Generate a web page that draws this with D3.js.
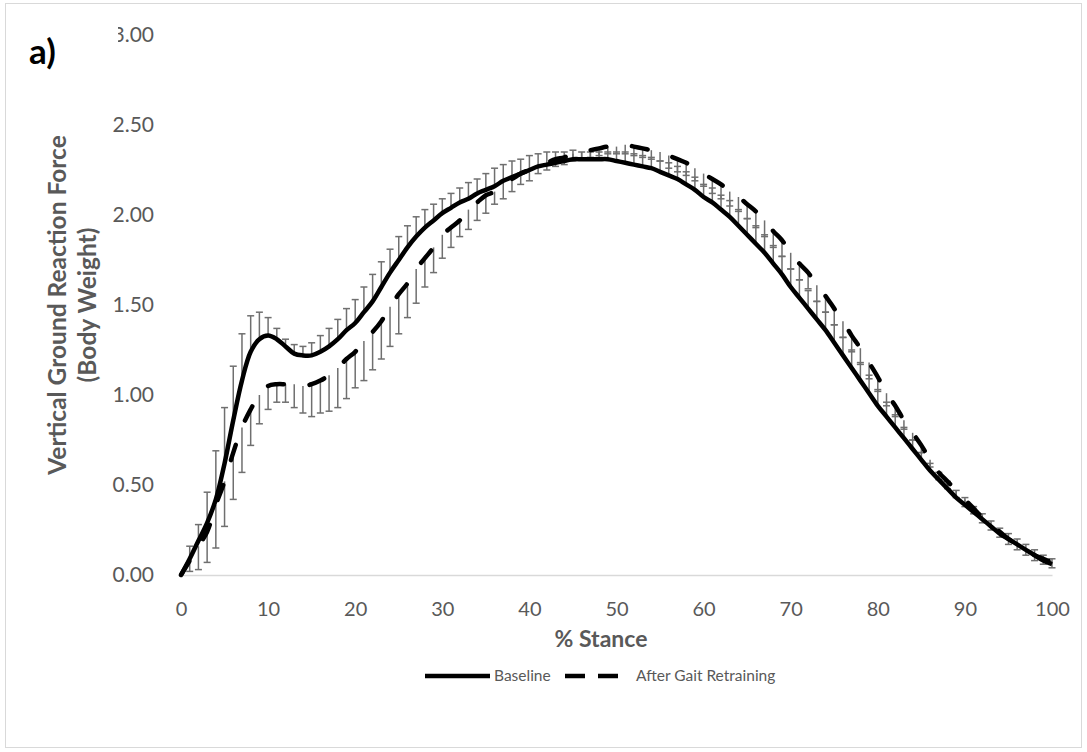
<!DOCTYPE html>
<html>
<head>
<meta charset="utf-8">
<title>Vertical GRF - % Stance</title>
<script src="https://d3js.org/d3.v7.min.js"></script>
<style>
	body { margin:0; background:#ffffff; }
	.tick-label { font-family: Lato, "Open Sans", sans-serif; fill:#595959; }
	.axis-title { font-family: Lato, "Open Sans", sans-serif; font-weight:bold; fill:#595959; }
	.legend-text { font-family: Lato, "Open Sans", sans-serif; fill:#595959; font-size:15.5px; }
	.errbar { stroke:#6f6f6f; stroke-width:1.5; fill:none; }
	.baseline { fill:none; stroke:#000; stroke-width:4.5; stroke-linejoin:round; }
	.retrain { fill:none; stroke:#000; stroke-width:4.5; stroke-dasharray:16,26; stroke-linecap:round; }
</style>
</head>
<body>
<div class="chartContainer"></div>
<script>
// % stance, 0..100 every 1%
var stance = d3.range(0, 101);

// baseline mean (body weight) and its + error
var baseline = [
	0.00, 0.09, 0.19, 0.29, 0.42, 0.62, 0.86, 1.08, 1.24, 1.31,
	1.33, 1.31, 1.27, 1.23, 1.22, 1.22, 1.24, 1.27, 1.31, 1.36,
	1.40, 1.46, 1.52, 1.60, 1.68, 1.75, 1.82, 1.88, 1.93, 1.97,
	2.01, 2.04, 2.07, 2.09, 2.12, 2.14, 2.16, 2.19, 2.21, 2.23,
	2.25, 2.27, 2.28, 2.29, 2.30, 2.31, 2.31, 2.31, 2.31, 2.31,
	2.30, 2.29, 2.28, 2.27, 2.26, 2.24, 2.22, 2.20, 2.17, 2.14,
	2.10, 2.07, 2.03, 1.99, 1.94, 1.89, 1.84, 1.79, 1.73, 1.67,
	1.60, 1.54, 1.48, 1.42, 1.36, 1.29, 1.22, 1.15, 1.08, 1.01,
	0.94, 0.88, 0.82, 0.76, 0.70, 0.64, 0.58, 0.53, 0.48, 0.43,
	0.39, 0.35, 0.31, 0.27, 0.23, 0.20, 0.17, 0.14, 0.11, 0.08,
	0.06
];
var baselineErr = [
	0.00, 0.07, 0.09, 0.17, 0.27, 0.31, 0.30, 0.26, 0.20, 0.15,
	0.10, 0.06, 0.04, 0.05, 0.05, 0.07, 0.09, 0.10, 0.11, 0.12,
	0.13, 0.14, 0.15, 0.14, 0.13, 0.13, 0.12, 0.11, 0.10, 0.09,
	0.08, 0.08, 0.08, 0.09, 0.08, 0.09, 0.10, 0.09, 0.09, 0.08,
	0.08, 0.07, 0.07, 0.06, 0.05, 0.05, 0.04, 0.04, 0.04, 0.04,
	0.05, 0.06, 0.06, 0.06, 0.06, 0.06, 0.07, 0.07, 0.07, 0.07,
	0.07, 0.08, 0.08, 0.09, 0.09, 0.09, 0.10, 0.10, 0.10, 0.10,
	0.10, 0.10, 0.10, 0.10, 0.10, 0.10, 0.10, 0.10, 0.10, 0.10,
	0.09, 0.08, 0.07, 0.06, 0.05, 0.04, 0.04, 0.04, 0.04, 0.04,
	0.04, 0.03, 0.03, 0.03, 0.03, 0.03, 0.03, 0.03, 0.03, 0.03,
	0.03
];

// after gait retraining mean and its - error
var retrained = [
	0.00, 0.08, 0.16, 0.24, 0.39, 0.52, 0.68, 0.82, 0.92, 1.00,
	1.05, 1.06, 1.06, 1.06, 1.05, 1.06, 1.08, 1.11, 1.15, 1.20,
	1.24, 1.30, 1.35, 1.41, 1.49, 1.56, 1.62, 1.70, 1.76, 1.82,
	1.89, 1.93, 1.97, 2.03, 2.07, 2.11, 2.13, 2.18, 2.20, 2.23,
	2.25, 2.27, 2.29, 2.31, 2.32, 2.34, 2.35, 2.36, 2.37, 2.38,
	2.38, 2.39, 2.38, 2.37, 2.36, 2.35, 2.33, 2.31, 2.29, 2.26,
	2.23, 2.20, 2.17, 2.13, 2.10, 2.06, 2.02, 1.97, 1.91, 1.86,
	1.79, 1.73, 1.68, 1.61, 1.55, 1.48, 1.41, 1.33, 1.26, 1.18,
	1.10, 1.01, 0.94, 0.86, 0.79, 0.72, 0.64, 0.57, 0.52, 0.47,
	0.42, 0.37, 0.32, 0.28, 0.24, 0.20, 0.17, 0.14, 0.11, 0.09,
	0.07
];
var retrainedErr = [
	0.00, 0.06, 0.13, 0.17, 0.24, 0.25, 0.26, 0.25, 0.20, 0.16,
	0.13, 0.10, 0.10, 0.13, 0.15, 0.18, 0.18, 0.20, 0.22, 0.22,
	0.20, 0.22, 0.21, 0.21, 0.22, 0.22, 0.19, 0.19, 0.16, 0.14,
	0.13, 0.11, 0.09, 0.11, 0.10, 0.10, 0.07, 0.09, 0.07, 0.06,
	0.06, 0.04, 0.04, 0.04, 0.04, 0.04, 0.04, 0.04, 0.04, 0.04,
	0.04, 0.05, 0.05, 0.05, 0.05, 0.05, 0.07, 0.07, 0.07, 0.07,
	0.07, 0.08, 0.08, 0.08, 0.08, 0.08, 0.09, 0.09, 0.09, 0.09,
	0.09, 0.09, 0.09, 0.09, 0.09, 0.09, 0.09, 0.09, 0.09, 0.09,
	0.08, 0.07, 0.06, 0.05, 0.04, 0.04, 0.04, 0.04, 0.04, 0.04,
	0.04, 0.03, 0.03, 0.03, 0.03, 0.03, 0.03, 0.03, 0.03, 0.03,
	0.03
];

var xTicks = d3.range(0, 101, 10);
var yTicks = [0, 0.5, 1, 1.5, 2, 2.5, 3];
var seriesNames = ["Baseline", "After Gait Retraining"];

var totalWidth = 1087, totalHeight = 752;

var svg = d3.select(".chartContainer").append("svg")
	.attr("width", totalWidth)
	.attr("height", totalHeight);

// chart frame
svg.append("rect")
	.attr("x", 5.5).attr("y", 3.5)
	.attr("width", 1076).attr("height", 744)
	.attr("fill", "#fff")
	.attr("stroke", "#d9d9d9");

var x = d3.scaleLinear().domain([0, 100]).range([181, 1052]);
var y = d3.scaleLinear().domain([0, 3]).range([575, 35]);

// x axis line, no ticks
var xAxis = d3.axisBottom(x).tickValues(xTicks).tickSize(0).tickPadding(41);
var gx = svg.append("g")
	.attr("transform", "translate(0," + y(0) + ")")
	.call(xAxis);
gx.select(".domain").attr("stroke", "#d9d9d9").attr("stroke-width", 1.3);
gx.selectAll("text").attr("class", "tick-label").attr("font-size", 20).attr("dy", 0).attr("fill", "#595959");

// y labels only
var yAxis = d3.axisLeft(y).tickValues(yTicks).tickSize(0).tickPadding(27)
	.tickFormat(d3.format(".2f"));
var gy = svg.append("g")
	.attr("transform", "translate(181,0)")
	.call(yAxis);
gy.select(".domain").remove();
gy.selectAll("text").attr("class", "tick-label").attr("font-size", 21).attr("fill", "#595959");

// the "a)" text box covers part of the top label
svg.append("rect")
	.attr("x", 20).attr("y", 15)
	.attr("width", 98).attr("height", 70)
	.attr("fill", "#fff");
svg.append("text")
	.attr("x", 29).attr("y", 64)
	.attr("font-family", "Lato, 'Open Sans', sans-serif")
	.attr("font-weight", "bold")
	.attr("font-size", 35)
	.attr("fill", "#000")
	.text("a)");

// axis titles
svg.append("text")
	.attr("class", "axis-title")
	.attr("x", 601).attr("y", 647)
	.attr("text-anchor", "middle")
	.attr("font-size", 23)
	.text("% Stance");

var yTitle = svg.append("text")
	.attr("class", "axis-title")
	.attr("font-size", 24.5)
	.attr("text-anchor", "middle")
	.attr("transform", "translate(66,305) rotate(-90)");
yTitle.append("tspan").attr("x", 0).attr("y", 0).text("Vertical Ground Reaction Force");
yTitle.append("tspan").attr("x", 0).attr("y", 30).text("(Body Weight)");

// error bars: baseline goes up, retrained goes down
var capW = 3.5;
function errorBars(vals, errs, dir, cls) {
	var g = svg.append("g").attr("class", cls);
	var pts = stance.map(function(s, i) { return { s: s, v: vals[i], e: errs[i] }; })
		.filter(function(d) { return d.e > 0; });
	g.selectAll("line.stem").data(pts).enter().append("line")
		.attr("class", "errbar stem")
		.attr("x1", function(d) { return x(d.s); })
		.attr("x2", function(d) { return x(d.s); })
		.attr("y1", function(d) { return y(d.v); })
		.attr("y2", function(d) { return y(d.v + dir * d.e); });
	g.selectAll("line.cap").data(pts).enter().append("line")
		.attr("class", "errbar cap")
		.attr("x1", function(d) { return x(d.s) - capW; })
		.attr("x2", function(d) { return x(d.s) + capW; })
		.attr("y1", function(d) { return y(d.v + dir * d.e); })
		.attr("y2", function(d) { return y(d.v + dir * d.e); });
}
errorBars(baseline, baselineErr, 1, "err-baseline");
errorBars(retrained, retrainedErr, -1, "err-retrain");

// smoothed lines
var line = d3.line()
	.curve(d3.curveCatmullRom.alpha(0.5))
	.x(function(d) { return x(d[0]); })
	.y(function(d) { return y(d[1]); });

svg.append("path")
	.attr("class", "baseline")
	.attr("d", line(stance.map(function(s, i) { return [s, baseline[i]]; })));

svg.append("path")
	.attr("class", "retrain")
	.attr("d", line(stance.map(function(s, i) { return [s, retrained[i]]; })));

// legend
var legY = 676;
var legend = svg.append("g");
legend.append("line")
	.attr("x1", 425).attr("x2", 490).attr("y1", legY).attr("y2", legY)
	.attr("stroke", "#000").attr("stroke-width", 4.5);
legend.append("text")
	.attr("class", "legend-text")
	.attr("x", 494).attr("y", legY + 5)
	.text(seriesNames[0]);
legend.append("line")
	.attr("x1", 565).attr("x2", 630).attr("y1", legY).attr("y2", legY)
	.attr("stroke", "#000").attr("stroke-width", 4.5)
	.attr("stroke-dasharray", "20,13");
legend.append("text")
	.attr("class", "legend-text")
	.attr("x", 636).attr("y", legY + 5)
	.text(seriesNames[1]);
</script>
</body>
</html>
